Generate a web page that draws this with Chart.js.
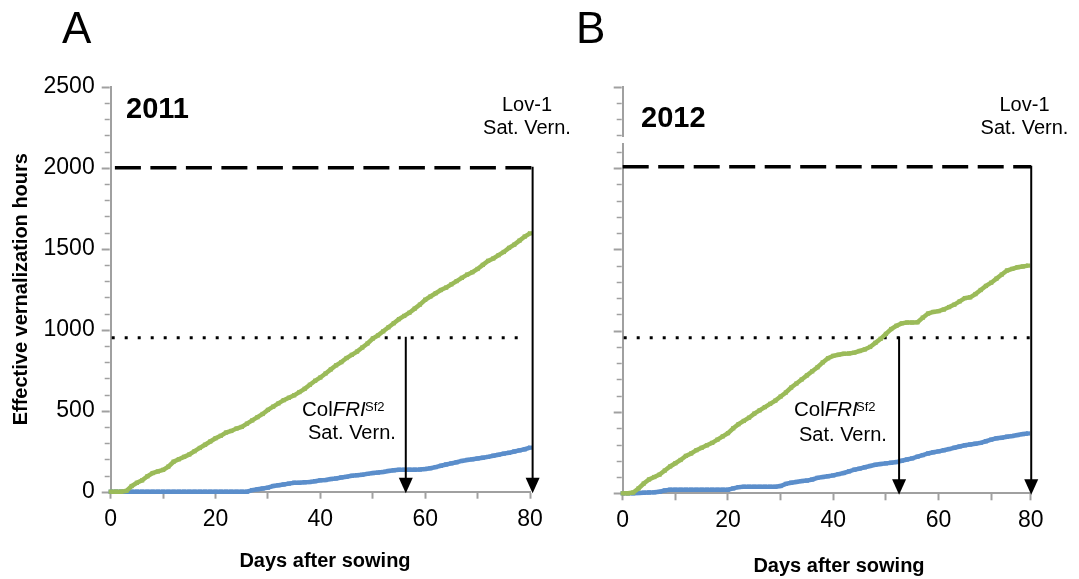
<!DOCTYPE html>
<html><head><meta charset="utf-8">
<script src="https://cdn.jsdelivr.net/npm/chart.js@4.4.1/dist/chart.umd.min.js"></script>
<style>
html,body{margin:0;padding:0;background:#fff;width:1079px;height:579px;overflow:hidden;font-family:"Liberation Sans",Arial,sans-serif;}
.box{position:absolute;top:0;height:579px;}
#wa{left:0;width:560px}
#wb{left:560px;width:519px}
.t{position:absolute;white-space:nowrap;color:#000;line-height:1;}
.c{text-align:center;width:140px;}
</style></head><body>
<div id="wa" class="box"><canvas id="ca"></canvas></div>
<div id="wb" class="box"><canvas id="cb"></canvas></div>

<div class="t" style="left:62px;top:6px;font-size:44px">A</div>
<div class="t" style="left:576px;top:6px;font-size:44px">B</div>
<div class="t" style="left:126px;top:94px;font-size:29px;font-weight:bold">2011</div>
<div class="t" style="left:641px;top:103px;font-size:29px;font-weight:bold">2012</div>

<div class="t c" style="left:457px;top:94.4px;font-size:20px">Lov-1</div>
<div class="t c" style="left:457px;top:117.4px;font-size:20px">Sat. Vern.</div>
<div class="t c" style="left:954.5px;top:94.4px;font-size:20px">Lov-1</div>
<div class="t c" style="left:954.5px;top:117.4px;font-size:20px">Sat. Vern.</div>

<div class="t" style="left:302px;top:399.4px;font-size:20.5px">Col<i>FRI</i></div>
<div class="t" style="left:365px;top:400.3px;font-size:13px">Sf2</div>
<div class="t" style="left:308px;top:422.4px;font-size:20px">Sat. Vern.</div>
<div class="t" style="left:794px;top:399.1px;font-size:20.5px">Col<i>FRI</i></div>
<div class="t" style="left:856px;top:400px;font-size:13px">Sf2</div>
<div class="t" style="left:799px;top:424.1px;font-size:20px">Sat. Vern.</div>

<div class="t" style="left:225px;width:200px;text-align:center;top:550.4px;font-size:20px;font-weight:bold">Days after sowing</div>
<div class="t" style="left:739px;width:200px;text-align:center;top:555.4px;font-size:20px;font-weight:bold">Days after sowing</div>

<script>
// ---- Data ----
// Panel A (2011): day 0..80
const greenA = [0,0,0,5,35,55,70,95,115,125,135,155,185,200,215,230,250,270,290,310,330,345,365,375,390,400,420,440,460,480,505,525,545,565,580,595,615,635,660,685,705,730,755,780,800,825,845,865,890,915,945,965,990,1015,1040,1065,1085,1105,1130,1155,1185,1205,1225,1245,1260,1280,1300,1320,1340,1355,1375,1400,1425,1440,1460,1480,1505,1525,1550,1575,1595];
const blueA = [0,0,0,0,0,0,0,0,0,0,0,0,0,0,0,0,0,0,0,0,0,0,0,0,0,0,0,10,15,20,25,35,40,45,50,55,55,58,60,65,70,72,78,82,88,92,98,102,105,110,115,118,122,128,132,135,135,136,136,137,140,145,152,160,168,175,182,190,196,200,205,210,215,222,228,235,240,248,255,262,272];
// Panel B (2012): day 0..77
const greenB = [0,0,5,30,60,85,100,115,140,165,185,205,230,245,265,280,295,310,330,350,370,400,425,445,465,490,510,530,550,570,595,620,650,675,700,725,750,775,805,830,845,852,858,860,865,875,885,900,925,950,980,1010,1030,1045,1050,1050,1052,1080,1105,1115,1120,1130,1145,1160,1180,1200,1205,1225,1250,1275,1295,1320,1345,1370,1380,1390,1395,1400];
const blueB = [0,0,0,2,4,5,6,10,18,22,22,22,22,22,22,22,22,22,22,22,22,30,38,40,40,40,40,40,40,40,45,58,65,70,75,78,85,95,100,105,110,118,125,135,145,152,160,168,175,180,184,188,192,200,208,215,225,235,245,252,258,265,272,280,288,295,300,305,310,320,330,338,342,348,352,358,364,368];

// Tick values / labels
const yTickValues = [0,100,200,300,400,500,600,700,800,900,1000,1100,1200,1300,1400,1500,1600,1700,1800,1900,2000,2100,2200,2300,2400,2500];
const yTickLabels = ['0','','','','','500','','','','','1000','','','','','1500','','','','','2000','','','','','2500'];
const xTickValuesA = [0,10,20,30,40,50,60,70,80];
const xTickLabelsA = ['0','','20','','40','','60','','80'];
const xTickValuesB = [0,10,20,30,40,50,60,70,77.5];
const xTickLabelsB = ['0','','20','','40','','60','','80'];

// Reference levels (saturating vernalization) and the days they are reached
const refA = {lovSat: 2000, colSat: 950, lovDay: 80.5, colDay: 56.3, dashStart: 0.8, dotEnd: 79.3};
const refB = {lovSat: 2008, colSat: 957, lovDay: 77.6, colDay: 52.5, dashStart: 0, dotEnd: 77.6, axisGap: true};

const GREEN = '#9bbb59';
const BLUE = '#5b8ecb';
const AXIS = '#a0a0a0';

const toXY = arr => arr.map((v, i) => ({x: i, y: v}));

const refPlugin = {
  id: 'refLines',
  beforeDatasetsDraw(chart) {
    const r = chart.options.plugins.refLines;
    const xs = chart.scales.x, ys = chart.scales.y;
    const ctx = chart.ctx;
    ctx.save();
    const left = chart.chartArea.left - 1;
    yTickValues.forEach(v => {
      const y = Math.round(ys.getPixelForValue(v)) + 0.5;
      const major = v % 500 === 0;
      ctx.strokeStyle = AXIS;
      ctx.lineWidth = major ? 2 : 1.5;
      ctx.beginPath();
      ctx.moveTo(left - (major ? 8 : 5), y);
      ctx.lineTo(left, y);
      ctx.stroke();
    });
    if (r.axisGap) {
      ctx.fillStyle = '#fff';
      ctx.fillRect(left - 2, 137, 6, 6);
    }
    const y2 = ys.getPixelForValue(r.lovSat);
    ctx.strokeStyle = '#000';
    ctx.lineWidth = 3.5;
    ctx.setLineDash([26, 9.5]);
    ctx.beginPath();
    ctx.moveTo(xs.getPixelForValue(r.dashStart), y2);
    ctx.lineTo(xs.getPixelForValue(r.lovDay), y2);
    ctx.stroke();
    const y1 = ys.getPixelForValue(r.colSat);
    ctx.lineWidth = 3;
    ctx.setLineDash([3, 10]);
    ctx.beginPath();
    ctx.moveTo(xs.getPixelForValue(0) + 1, y1);
    ctx.lineTo(xs.getPixelForValue(r.dotEnd), y1);
    ctx.stroke();
    ctx.restore();
  },
  afterDatasetsDraw(chart) {
    const r = chart.options.plugins.refLines;
    const xs = chart.scales.x, ys = chart.scales.y;
    const ctx = chart.ctx;
    const y0 = ys.getPixelForValue(0);
    const arrow = (day, val) => {
      const x = xs.getPixelForValue(day);
      const yt = ys.getPixelForValue(val);
      ctx.strokeStyle = '#000';
      ctx.lineWidth = 2;
      ctx.setLineDash([]);
      ctx.beginPath();
      ctx.moveTo(x, yt - 1);
      ctx.lineTo(x, y0 - 12);
      ctx.stroke();
      ctx.fillStyle = '#000';
      ctx.beginPath();
      ctx.moveTo(x - 7, y0 - 14);
      ctx.lineTo(x + 7, y0 - 14);
      ctx.lineTo(x, y0 + 1.5);
      ctx.closePath();
      ctx.fill();
    };
    ctx.save();
    arrow(r.lovDay, r.lovSat);
    arrow(r.colDay, r.colSat);
    ctx.restore();
  }
};

function makeChart(id, green, blue, xmax, xTicks, xLabels, ref, opts) {
  return new Chart(document.getElementById(id), {
    type: 'line',
    data: {
      datasets: [
        {data: toXY(green), borderColor: GREEN, backgroundColor: GREEN, borderWidth: 4.5,
         pointStyle: 'rect', pointRadius: 3, pointBorderWidth: 0, tension: 0, clip: false},
        {data: toXY(blue), borderColor: BLUE, backgroundColor: BLUE, borderWidth: 4.5,
         pointStyle: 'rect', pointRadius: 3, pointBorderWidth: 0, tension: 0, clip: false}
      ]
    },
    options: {
      responsive: true,
      maintainAspectRatio: false,
      animation: false,
      events: [],
      layout: {padding: {left: 0, top: 86.7, right: opts.padRight, bottom: 0}},
      plugins: {legend: {display: false}, tooltip: {enabled: false}, refLines: ref},
      scales: {
        x: {
          type: 'linear', min: 0, max: xmax,
          afterFit: s => { s.height = opts.xHeight; },
          afterBuildTicks: s => { s.ticks = xTicks.map(v => ({value: v})); },
          ticks: {autoSkip: false, maxRotation: 0, padding: 7, color: '#000',
                  font: {family: 'Liberation Sans', size: 23},
                  callback: (v, i) => xLabels[i]},
          grid: {display: true, drawOnChartArea: false, drawTicks: true, tickLength: 7,
                 tickColor: AXIS, tickWidth: 2, color: AXIS},
          border: {display: true, color: AXIS, width: 2}
        },
        y: {
          min: 0, max: 2500,
          afterFit: s => { s.width = opts.yWidth; },
          afterBuildTicks: s => { s.ticks = yTickValues.map(v => ({value: v})); },
          ticks: {display: opts.yLabels, autoSkip: false, padding: 16, color: '#000',
                  font: {family: 'Liberation Sans', size: 23},
                  callback: (v, i) => yTickLabels[i]},
          grid: {display: false, drawTicks: false},
          border: {display: true, color: AXIS, width: 2},
          title: {display: opts.yLabels, text: 'Effective vernalization hours', color: '#000',
                  font: {family: 'Liberation Sans', size: 20, weight: 'bold'},
                  padding: {top: 9, bottom: 0}}
        }
      }
    },
    plugins: [refPlugin]
  });
}

makeChart('ca', greenA, blueA, 80, xTickValuesA, xTickLabelsA, refA,
  {padRight: 30, xHeight: 87.3, yWidth: 110.7, yLabels: true});
makeChart('cb', greenB, blueB, 77.5, xTickValuesB, xTickLabelsB, refB,
  {padRight: 48.3, xHeight: 85.7, yWidth: 62.7, yLabels: false});
</script>
</body></html>
